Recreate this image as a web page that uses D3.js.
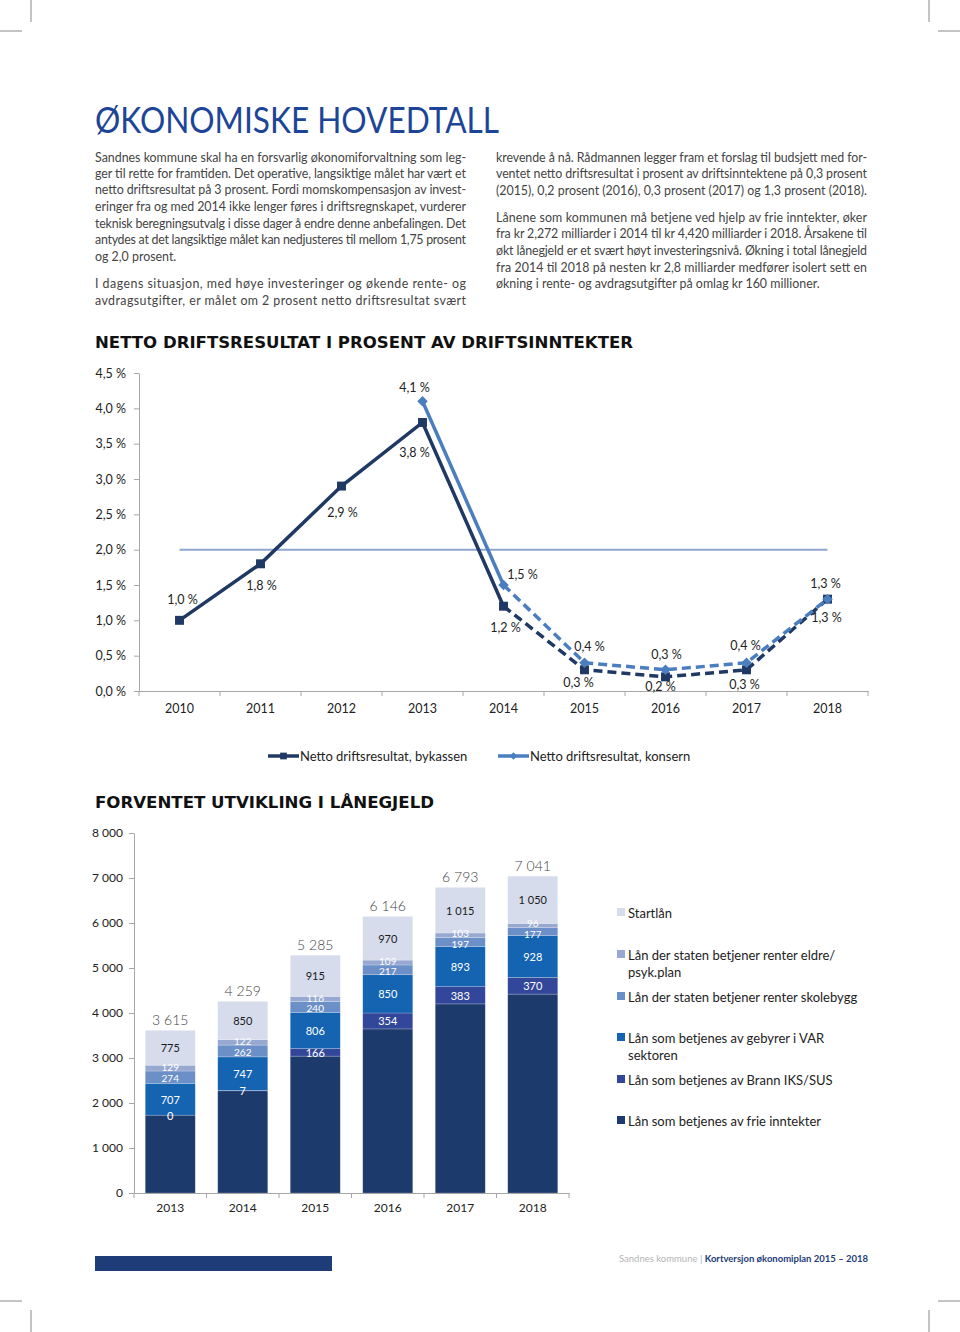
<!DOCTYPE html>
<html>
<head>
<meta charset="utf-8">
<script src="https://cdn.jsdelivr.net/npm/d3@7"></script>
<style>
  body { margin: 0; background: #fff; }
  svg { display: block; }
  .axis path, .axis line { stroke: #a6a6a6; }
</style>
</head>
<body>
<div id="page"></div>
<script>
// ---- data: netto driftsresultat ----
var years = ["2010", "2011", "2012", "2013", "2014", "2015", "2016", "2017", "2018"];
var bykassen = [1.0, 1.8, 2.9, 3.8, 1.2, 0.3, 0.2, 0.3, 1.3];
var konsern = [null, null, null, 4.1, 1.5, 0.4, 0.3, 0.4, 1.3];
var targetLevel = 2.0;
var pctTicks = [0, 0.5, 1.0, 1.5, 2.0, 2.5, 3.0, 3.5, 4.0, 4.5];

// ---- data: lånegjeld ----
var loanYears = ["2013", "2014", "2015", "2016", "2017", "2018"];
var frieInntekter = [1730, 2271, 3042, 3646, 4202, 4420];
var brannSus = [0, 7, 166, 354, 383, 370];
var varSektor = [707, 747, 806, 850, 893, 928];
var skolebygg = [274, 262, 240, 217, 197, 177];
var eldrePsyk = [129, 122, 116, 109, 103, 96];
var startlaan = [775, 850, 915, 970, 1015, 1050];
var loanTicks = [0, 1000, 2000, 3000, 4000, 5000, 6000, 7000, 8000];

var leftText = [
  "Sandnes kommune skal ha en forsvarlig økonomiforvaltning som leg-",
  "ger til rette for framtiden. Det operative, langsiktige målet har vært et",
  "netto driftsresultat på 3 prosent. Fordi momskompensasjon av invest-",
  "eringer fra og med 2014 ikke lenger føres i driftsregnskapet, vurderer",
  "teknisk beregningsutvalg i disse dager å endre denne anbefalingen. Det",
  "antydes at det langsiktige målet kan nedjusteres til mellom 1,75 prosent",
  "og 2,0 prosent.",
  "I dagens situasjon, med høye investeringer og økende rente- og",
  "avdragsutgifter, er målet om 2 prosent netto driftsresultat svært"
];
var rightText = [
  "krevende å nå. Rådmannen legger fram et forslag til budsjett med for-",
  "ventet netto driftsresultat i prosent av driftsinntektene på 0,3 prosent",
  "(2015), 0,2 prosent (2016), 0,3 prosent (2017) og 1,3 prosent (2018).",
  "Lånene som kommunen må betjene ved hjelp av frie inntekter, øker",
  "fra kr 2,272 milliarder i 2014 til kr 4,420 milliarder i 2018. Årsakene til",
  "økt lånegjeld er et svært høyt investeringsnivå. Økning i total lånegjeld",
  "fra 2014 til 2018 på nesten kr 2,8 milliarder medfører isolert sett en",
  "økning i rente- og avdragsutgifter på omlag kr 160 millioner."
];

var W = 960, H = 1332;
var chartFont = "Lato, 'Open Sans', sans-serif";

var svg = d3.select("#page").append("svg")
    .attr("width", W)
    .attr("height", H);

// crop marks
var crop = [[31, 0, 31, 22], [0, 31, 22, 31], [929, 0, 929, 22], [938, 31, 960, 31],
            [31, 1310, 31, 1332], [0, 1301, 22, 1301], [929, 1310, 929, 1332], [938, 1301, 960, 1301]];
svg.selectAll("line.crop")
  .data(crop)
  .enter().append("line")
    .attr("class", "crop")
    .attr("x1", function(d) { return d[0]; }).attr("y1", function(d) { return d[1]; })
    .attr("x2", function(d) { return d[2]; }).attr("y2", function(d) { return d[3]; })
    .style("stroke", "#8a8a8a").style("stroke-width", 1);

// title
svg.append("text")
  .attr("x", 95).attr("y", 133)
  .attr("textLength", 404).attr("lengthAdjust", "spacingAndGlyphs")
  .style("font-family", "Lato, sans-serif")
  .style("font-size", "36px")
  .style("fill", "#1d4597")
  .text("ØKONOMISKE HOVEDTALL");

// body text columns
var leftY = [162, 178, 194, 211, 228, 244, 261, 288, 305];
var rightY = [162, 178, 195, 222, 238, 255, 272, 288];
function column(lines, ys, x0, lastLines) {
  lines.forEach(function(line, i) {
    var t = svg.append("text")
      .attr("x", x0).attr("y", ys[i])
      .style("font-family", "Lato, sans-serif")
      .style("font-size", "12.4px")
      .style("fill", "#444")
      .text(line);
    if (lastLines.indexOf(i) < 0) {
      t.attr("textLength", 371).attr("lengthAdjust", "spacing");
    }
  });
}
column(leftText, leftY, 95, [6]);
column(rightText, rightY, 496, [7]);

// headings
svg.append("text")
  .attr("x", 95).attr("y", 348)
  .attr("textLength", 538).attr("lengthAdjust", "spacingAndGlyphs")
  .style("font-family", "'DejaVu Sans', sans-serif").style("font-weight", "bold")
  .style("font-size", "16px").style("fill", "#111")
  .text("NETTO DRIFTSRESULTAT I PROSENT AV DRIFTSINNTEKTER");

svg.append("text")
  .attr("x", 95).attr("y", 808)
  .attr("textLength", 339).attr("lengthAdjust", "spacingAndGlyphs")
  .style("font-family", "'DejaVu Sans', sans-serif").style("font-weight", "bold")
  .style("font-size", "16px").style("fill", "#111")
  .text("FORVENTET UTVIKLING I LÅNEGJELD");

// ================= line chart =================
var lx = d3.scaleBand().domain(years).range([139, 868]);
var ly = d3.scaleLinear().domain([0, 4.5]).range([691, 373]);
var fmtPct = function(d) { return d.toFixed(1).replace(".", ",") + " %"; };

svg.append("g")
  .attr("class", "axis")
  .attr("transform", "translate(139,0)")
  .call(d3.axisLeft(ly).tickValues(pctTicks).tickFormat(fmtPct).tickSize(5).tickSizeOuter(0).tickPadding(8))
  .call(function(g) {
    g.selectAll("text").style("font-family", chartFont).style("font-size", "12.5px").style("fill", "#222");
  });

var xAxisL = svg.append("g")
  .attr("class", "axis")
  .attr("transform", "translate(0,691)")
  .call(d3.axisBottom(lx).tickSize(0).tickPadding(13))
  .call(function(g) {
    g.selectAll("text").style("font-family", chartFont).style("font-size", "12.5px").style("fill", "#222");
  });
xAxisL.selectAll("line.bound")
  .data(years.concat(["end"]))
  .enter().append("line")
    .attr("class", "bound")
    .attr("x1", function(d) { return d === "end" ? lx.range()[1] : lx(d); })
    .attr("x2", function(d) { return d === "end" ? lx.range()[1] : lx(d); })
    .attr("y1", 0).attr("y2", 5)
    .style("stroke", "#a6a6a6");

// target line at 2 %
svg.append("line")
  .attr("x1", lx(years[0]) + lx.bandwidth() / 2)
  .attr("x2", lx(years[years.length - 1]) + lx.bandwidth() / 2)
  .attr("y1", ly(targetLevel)).attr("y2", ly(targetLevel))
  .style("stroke", "#8fa7cd").style("stroke-width", 2);

var cx = function(i) { return lx(years[i]) + lx.bandwidth() / 2; };
var lineGen = d3.line()
  .defined(function(d) { return d.v != null; })
  .x(function(d) { return cx(d.i); })
  .y(function(d) { return ly(d.v); });

function drawSeries(vals, color, split, marker, labelPos) {
  var pts = vals.map(function(v, i) { return {i: i, v: v}; }).filter(function(d) { return d.v != null; });
  var solid = pts.filter(function(d) { return d.i <= split; });
  var dashed = pts.filter(function(d) { return d.i >= split; });
  svg.append("path").datum(solid)
    .attr("d", lineGen)
    .style("fill", "none").style("stroke", color).style("stroke-width", 3.5);
  svg.append("path").datum(dashed)
    .attr("d", lineGen)
    .style("fill", "none").style("stroke", color).style("stroke-width", 3.5)
    .style("stroke-dasharray", "9,5");
  svg.selectAll(null)
    .data(pts).enter().append("path")
      .attr("d", d3.symbol().type(marker.type).size(marker.size))
      .attr("transform", function(d) {
        return "translate(" + cx(d.i) + "," + ly(d.v) + ")" + (marker.rotate ? " rotate(45)" : "");
      })
      .style("fill", color);
  svg.selectAll(null)
    .data(pts).enter().append("text")
      .attr("x", function(d) { return cx(d.i) + labelPos[d.i][0]; })
      .attr("y", function(d) { return ly(d.v) + labelPos[d.i][1]; })
      .attr("text-anchor", "middle").attr("dominant-baseline", "central")
      .style("font-family", chartFont).style("font-size", "12.5px").style("fill", "#222")
      .text(function(d) { return fmtPct(d.v); });
}

var bykassenLabelPos = [[3, -21], [1, 22], [1, 26], [-8, 30], [2, 21], [-6, 13], [-5, 10], [-2, 15], [-1, 18]];
var konsernLabelPos = [null, null, null, [-8, -14], [19, -11], [5, -16], [1, -15], [-1, -17], [-2, -16]];

drawSeries(bykassen, "#1f3864", 4, {type: d3.symbolSquare, size: 80, rotate: false}, bykassenLabelPos);
drawSeries(konsern, "#4a7ebf", 4, {type: d3.symbolSquare, size: 55, rotate: true}, konsernLabelPos);

// legend line chart
var lineLegend = [
  {name: "Netto driftsresultat, bykassen", color: "#1f3864", x: 268, rotate: false, size: 45},
  {name: "Netto driftsresultat, konsern", color: "#4a7ebf", x: 498, rotate: true, size: 30}
];
var lg = svg.selectAll("g.lleg").data(lineLegend).enter().append("g")
  .attr("class", "lleg")
  .attr("transform", function(d) { return "translate(" + d.x + ",756)"; });
lg.append("line").attr("x1", 0).attr("x2", 31).attr("y1", 0).attr("y2", 0)
  .style("stroke", function(d) { return d.color; }).style("stroke-width", 3.5);
lg.append("path")
  .attr("d", function(d) { return d3.symbol().type(d3.symbolSquare).size(d.size)(); })
  .attr("transform", function(d) { return "translate(15.5,0)" + (d.rotate ? " rotate(45)" : ""); })
  .style("fill", function(d) { return d.color; });
lg.append("text").attr("x", 32).attr("y", 0).attr("dominant-baseline", "central")
  .style("font-family", chartFont).style("font-size", "13px").style("fill", "#222")
  .text(function(d) { return d.name; });

// ================= bar chart =================
var fmtLocale = d3.formatLocale({decimal: ",", thousands: " ", grouping: [3], currency: ["", ""]});
var fmtNum = fmtLocale.format(",d");

var keys = ["frie", "brann", "var", "skole", "eldre", "start"];
var series = {frie: frieInntekter, brann: brannSus, var: varSektor, skole: skolebygg, eldre: eldrePsyk, start: startlaan};
var colors = {frie: "#1c3a6c", brann: "#33479a", var: "#1464b2", skole: "#6b90c8", eldre: "#97a9d0", start: "#d6dcec"};
var table = loanYears.map(function(y, i) {
  var row = {year: y};
  keys.forEach(function(k) { row[k] = series[k][i]; });
  return row;
});
var stacked = d3.stack().keys(keys)(table);

var bx = d3.scaleBand().domain(loanYears).range([134, 569]).paddingInner(0.31).paddingOuter(0.155);
var by = d3.scaleLinear().domain([0, 8000]).range([1193, 833]);

svg.append("g")
  .attr("class", "axis")
  .attr("transform", "translate(134,0)")
  .call(d3.axisLeft(by).tickValues(loanTicks).tickFormat(fmtNum).tickSize(5).tickSizeOuter(0).tickPadding(6))
  .call(function(g) {
    g.selectAll("text").style("font-family", chartFont).style("font-size", "12px").style("fill", "#222");
  });

var layers = svg.selectAll("g.layer").data(stacked).enter().append("g")
  .attr("class", "layer")
  .style("fill", function(d) { return colors[d.key]; });
layers.selectAll("rect").data(function(d) { return d; }).enter().append("rect")
  .attr("x", function(d) { return bx(d.data.year); })
  .attr("width", bx.bandwidth())
  .attr("y", function(d) { return by(d[1]); })
  .attr("height", function(d) { return by(d[0]) - by(d[1]); })
  .style("stroke", "rgba(255,255,255,0.35)").style("stroke-width", 0.6);

// segment labels; the two thin state-loan segments are nudged apart so they stay readable
var labelGap = 10.5;
function segMid(d) { return (by(d[0]) + by(d[1])) / 2; }
var skoleLayer = stacked[keys.indexOf("skole")], eldreLayer = stacked[keys.indexOf("eldre")];
var nudge = loanYears.map(function(y, i) {
  var dist = segMid(skoleLayer[i]) - segMid(eldreLayer[i]);
  return Math.max(0, (labelGap - dist) / 2);
});
stacked.filter(function(s) { return s.key !== "frie"; }).forEach(function(s) {
  var small = s.key === "skole" || s.key === "eldre";
  svg.selectAll(null).data(s).enter().append("text")
    .attr("x", function(d) { return bx(d.data.year) + bx.bandwidth() / 2; })
    .attr("y", function(d, i) {
      var shift = s.key === "eldre" ? -nudge[i] : s.key === "skole" ? nudge[i] : 0;
      return segMid(d) + shift;
    })
    .attr("text-anchor", "middle").attr("dominant-baseline", "central")
    .style("font-family", chartFont).style("font-size", small ? "10px" : "11px")
    .style("fill", s.key === "start" ? "#1a1a1a" : "#fff")
    .text(function(d) { return fmtNum(d.data[s.key]); });
});

// totals
svg.selectAll("text.total").data(table).enter().append("text")
  .attr("class", "total")
  .attr("x", function(d) { return bx(d.year) + bx.bandwidth() / 2; })
  .attr("y", function(d) { return by(d3.sum(keys, function(k) { return d[k]; })) - 11; })
  .attr("text-anchor", "middle").attr("dominant-baseline", "central")
  .style("font-family", "Lato, sans-serif").style("font-weight", 300).style("font-size", "14px").style("fill", "#444")
  .text(function(d) { return fmtNum(d3.sum(keys, function(k) { return d[k]; })); });

var xAxisB = svg.append("g")
  .attr("class", "axis")
  .attr("transform", "translate(0,1193)")
  .call(d3.axisBottom(bx).tickSize(0).tickPadding(10))
  .call(function(g) {
    g.selectAll("text").style("font-family", chartFont).style("font-size", "12px").style("fill", "#222");
  });
xAxisB.selectAll("line.bound")
  .data(loanYears.concat(["end"]))
  .enter().append("line")
    .attr("class", "bound")
    .attr("x1", function(d, i) { return bx.range()[0] + i * bx.step(); })
    .attr("x2", function(d, i) { return bx.range()[0] + i * bx.step(); })
    .attr("y1", 0).attr("y2", 5)
    .style("stroke", "#a6a6a6");

// bar legend (top to bottom)
var legendRows = [
  {key: "start", lines: ["Startlån"], y: 913},
  {key: "eldre", lines: ["Lån der staten betjener renter eldre/", "psyk.plan"], y: 955},
  {key: "skole", lines: ["Lån der staten betjener renter skolebygg"], y: 997},
  {key: "var", lines: ["Lån som betjenes av gebyrer i VAR", "sektoren"], y: 1038},
  {key: "brann", lines: ["Lån som betjenes av Brann IKS/SUS"], y: 1080},
  {key: "frie", lines: ["Lån som betjenes av frie inntekter"], y: 1121}
];
var bl = svg.selectAll("g.bleg").data(legendRows).enter().append("g")
  .attr("class", "bleg")
  .attr("transform", function(d) { return "translate(617," + d.y + ")"; });
bl.append("rect").attr("x", 0).attr("y", -5).attr("width", 8).attr("height", 8)
  .style("fill", function(d) { return colors[d.key]; });
bl.selectAll("text").data(function(d) { return d.lines; }).enter().append("text")
  .attr("x", 11).attr("y", function(d, i) { return i * 17; })
  .attr("dominant-baseline", "central")
  .style("font-family", chartFont).style("font-size", "13px").style("fill", "#222")
  .text(function(d) { return d; });

// footer
svg.append("rect").attr("x", 95).attr("y", 1256).attr("width", 237).attr("height", 15).style("fill", "#1d3c78");
var foot = svg.append("text")
  .attr("x", 868).attr("y", 1262)
  .attr("text-anchor", "end")
  .style("font-family", "Lato, sans-serif").style("font-size", "9.5px");
foot.append("tspan").style("fill", "#b5b5b5").text("Sandnes kommune  ");
foot.append("tspan").style("fill", "#9aa9c9").text("|  ");
foot.append("tspan").style("fill", "#1d3c78").style("font-weight", "bold").text("Kortversjon økonomiplan 2015 – 2018");
</script>
</body>
</html>
